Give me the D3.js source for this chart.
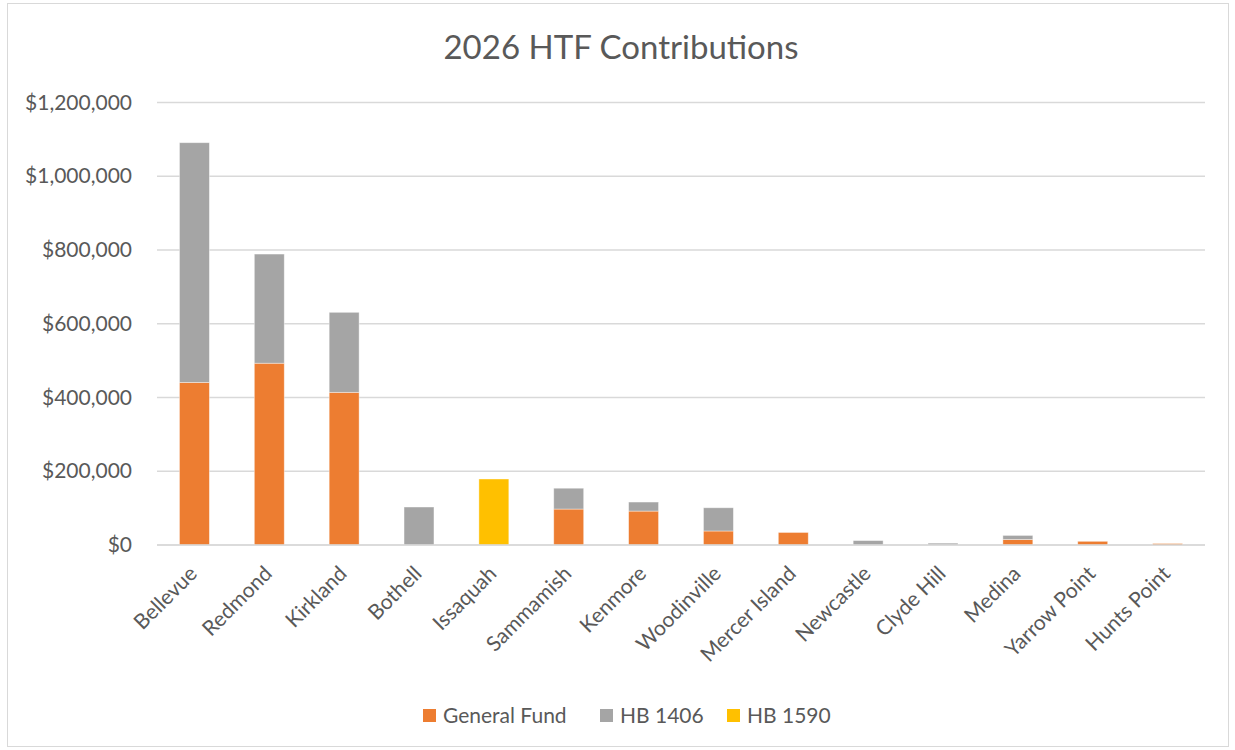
<!DOCTYPE html>
<html>
<head>
<meta charset="utf-8">
<script src="https://cdn.jsdelivr.net/npm/d3@7"></script>
<style>
  body { margin: 0; background: #fff; }
  svg { display: block; font-family: Lato, "Open Sans", sans-serif; }
</style>
</head>
<body>
<svg id="chart" width="1235" height="750"></svg>
<script>
// Contributing cities
const cities = ["Bellevue", "Redmond", "Kirkland", "Bothell", "Issaquah", "Sammamish", "Kenmore",
  "Woodinville", "Mercer Island", "Newcastle", "Clyde Hill", "Medina", "Yarrow Point", "Hunts Point"];

// Contributions by source (dollars)
const generalFund = [441000, 493000, 414000, 0, 0, 97500, 92000, 38000, 34000, 0, 0, 15000, 10000, 4000];
const hb1406 = [650000, 296000, 217000, 103000, 0, 56500, 24500, 63000, 0, 12000, 5000, 11000, 0, 0];
const hb1590 = [0, 0, 0, 0, 179000, 0, 0, 0, 0, 0, 0, 0, 0, 0];

const seriesNames = ["General Fund", "HB 1406", "HB 1590"];
const seriesColors = ["#ED7D31", "#A5A5A5", "#FFC000"];
const yTicks = [0, 200000, 400000, 600000, 800000, 1000000, 1200000];

const svg = d3.select("#chart");
const plot = { left: 157, right: 1205, top: 102.5, bottom: 545 };

// chart frame
svg.append("rect")
  .attr("x", 7.5).attr("y", 3.5).attr("width", 1221).attr("height", 743)
  .attr("fill", "#fff").attr("stroke", "#D9D9D9").attr("stroke-width", 1);

const x = d3.scaleBand().domain(cities).range([plot.left, plot.right]).paddingInner(0.6).paddingOuter(0.3);
const y = d3.scaleLinear().domain([0, 1200000]).range([plot.bottom, plot.top]);

// gridlines
svg.append("g")
  .selectAll("line").data(yTicks).join("line")
  .attr("x1", plot.left).attr("x2", plot.right)
  .attr("y1", d => y(d)).attr("y2", d => y(d))
  .attr("stroke", "#D9D9D9").attr("stroke-width", 1.3);

// y axis labels
const fmt = d3.format("$,.0f");
const yAxis = svg.append("g").attr("transform", `translate(${plot.left - 25},0)`)
  .call(d3.axisLeft(y).tickValues(yTicks).tickFormat(fmt).tickSize(0).tickPadding(0));
yAxis.select(".domain").remove();
yAxis.selectAll("text")
  .attr("font-family", "Lato, 'Open Sans', sans-serif")
  .attr("font-size", 21).attr("fill", "#595959");

// stacked bars
const rows = cities.map((c, i) => ({ city: c, "General Fund": generalFund[i], "HB 1406": hb1406[i], "HB 1590": hb1590[i] }));
const stack = d3.stack().keys(seriesNames)(rows);

svg.append("g").selectAll("g").data(stack).join("g")
  .attr("fill", (d, i) => seriesColors[i])
  .selectAll("rect").data(d => d.filter(p => p[1] - p[0] > 0)).join("rect")
  .attr("x", d => x(d.data.city))
  .attr("width", x.bandwidth())
  .attr("y", d => y(d[1]))
  .attr("height", d => y(d[0]) - y(d[1]))
  .attr("stroke", "#fff").attr("stroke-opacity", 0.5).attr("stroke-width", 0.8);

// x axis line
svg.append("line")
  .attr("x1", plot.left).attr("x2", plot.right)
  .attr("y1", plot.bottom).attr("y2", plot.bottom)
  .attr("stroke", "#D9D9D9").attr("stroke-width", 1.3);

// category labels, rotated
const xAxis = svg.append("g").attr("transform", `translate(0,${plot.bottom})`)
  .call(d3.axisBottom(x).tickSize(0).tickPadding(0));
xAxis.select(".domain").remove();
xAxis.selectAll("text")
  .attr("font-family", "Lato, 'Open Sans', sans-serif")
  .attr("font-size", 21).attr("fill", "#595959")
  .attr("text-anchor", "end")
  .attr("dy", 0)
  .attr("transform", "translate(4,30) rotate(-45)");

// title
svg.append("text")
  .attr("x", 621).attr("y", 59)
  .attr("text-anchor", "middle")
  .attr("font-size", 33).attr("fill", "#595959")
  .text("2026 HTF Contributions");

// legend
const legendX = [423, 600, 727];
const legend = svg.append("g").selectAll("g").data(seriesNames).join("g")
  .attr("transform", (d, i) => `translate(${legendX[i]},709)`);
legend.append("rect").attr("width", 13).attr("height", 13).attr("fill", (d, i) => seriesColors[i]);
legend.append("text").attr("x", 20).attr("y", 14)
  .attr("font-size", 21).attr("fill", "#595959").text(d => d);
</script>
</body>
</html>
